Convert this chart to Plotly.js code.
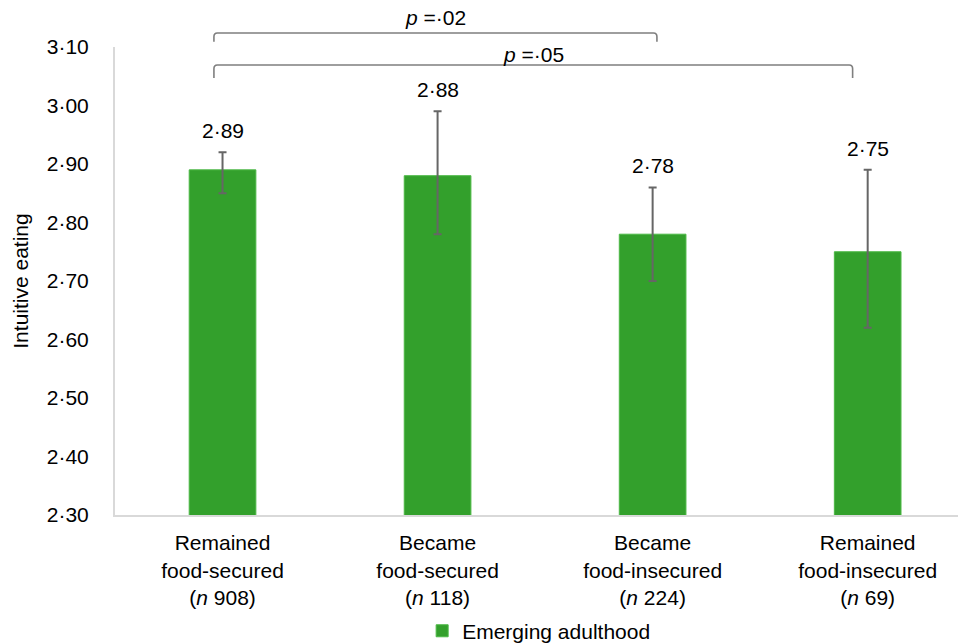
<!DOCTYPE html>
<html>
<head>
<meta charset="utf-8">
<script src="https://cdn.plot.ly/plotly-3.0.1.min.js"></script>
<style>html,body{margin:0;padding:0;background:#fff;}#chart{width:958px;height:644px;}</style>
</head>
<body>
<div id="chart"></div>
<script>
// ---- data ----
const categories = [
  'Remained<br>food-secured<br>(<i>n</i> 908)',
  'Became<br>food-secured<br>(<i>n</i> 118)',
  'Became<br>food-insecured<br>(<i>n</i> 224)',
  'Remained<br>food-insecured<br>(<i>n</i> 69)'
];
const means = [2.89, 2.88, 2.78, 2.75];
const errPlus = [0.03, 0.11, 0.08, 0.14];
const errMinus = [0.04, 0.10, 0.08, 0.13];
const valueLabels = ['2·89', '2·88', '2·78', '2·75'];
const yTickVals = [2.30, 2.40, 2.50, 2.60, 2.70, 2.80, 2.90, 3.00, 3.10];
const yTickText = ['2·30', '2·40', '2·50', '2·60', '2·70', '2·80', '2·90', '3·00', '3·10'];
const compFrom = [0, 0];
const compTo = [2, 3];
const compLabels = ['<i>p</i> =·02', '<i>p</i> =·05'];
const seriesName = 'Emerging adulthood';

// ---- layout helpers ----
const FONT = 'Liberation Sans, Arial, sans-serif';
const xIdx = categories.map((c, i) => i);
const xRange = [-0.5, 3.42];
const toPaperX = v => (v - xRange[0]) / (xRange[1] - xRange[0]);
const bracketTop = [1.030, 0.9615];
const bracketEnd = [1.011, 0.934];
const bracketLabelY = [1.064, 0.985];

const shapes = [];
const annotations = [];
compFrom.forEach((f, k) => {
  const x0 = toPaperX(f - 0.04), x1 = toPaperX(compTo[k] + (k === 0 ? 0.02 : -0.07));
  const yt = bracketTop[k], ye = bracketEnd[k];
  const rx = 0.004, ry = 0.008;
  shapes.push({
    type: 'path', xref: 'paper', yref: 'paper',
    path: `M ${x0},${ye} L ${x0},${yt - ry} Q ${x0},${yt} ${x0 + rx},${yt} L ${x1 - rx},${yt} Q ${x1},${yt} ${x1},${yt - ry} L ${x1},${ye}`,
    line: {color: '#7f7f7f', width: 1.6}
  });
  annotations.push({
    xref: 'paper', yref: 'paper', x: (x0 + x1) / 2, y: bracketLabelY[k],
    text: compLabels[k], showarrow: false, xanchor: 'center', yanchor: 'middle',
    font: {family: FONT, size: 21, color: '#000'}
  });
});
means.forEach((m, i) => {
  annotations.push({
    xref: 'x', yref: 'y', x: i, y: m + errPlus[i], yshift: 8,
    text: valueLabels[i], showarrow: false, xanchor: 'center', yanchor: 'bottom',
    font: {family: FONT, size: 21, color: '#000'}
  });
});

const trace = {
  type: 'bar', x: xIdx, y: means, name: seriesName, width: 0.31,
  marker: {color: '#33a02c', line: {color: '#4cb845', width: 1}},
  error_y: {type: 'data', symmetric: false, array: errPlus, arrayminus: errMinus,
            color: '#666666', thickness: 2, width: 4},
  showlegend: true
};

const layout = {
  width: 958, height: 644,
  margin: {l: 115, r: 0, t: 47, b: 129, autoexpand: false},
  paper_bgcolor: '#fff', plot_bgcolor: '#fff',
  font: {family: FONT, size: 21, color: '#000'},
  xaxis: {
    range: xRange, tickmode: 'array', tickvals: xIdx, ticktext: categories,
    showgrid: false, zeroline: false, showline: true, linecolor: '#d9d9d9', linewidth: 2,
    ticks: '', ticklabelstandoff: 8, tickfont: {size: 21, color: '#000'}, fixedrange: true,
    automargin: false
  },
  yaxis: {
    range: [2.30, 3.10], tickmode: 'array', tickvals: yTickVals, ticktext: yTickText,
    showgrid: false, zeroline: false, showline: true, linecolor: '#d9d9d9', linewidth: 2,
    ticks: '', ticklabelstandoff: 20, tickfont: {size: 21, color: '#000'}, automargin: false,
    title: {text: 'Intuitive eating', font: {size: 21, color: '#000'}, standoff: 12}
  },
  legend: {orientation: 'h', x: toPaperX(1.47), xanchor: 'center', yref: 'container', y: 0.02, yanchor: 'middle',
           font: {size: 21, color: '#000'}, itemwidth: 30},
  shapes: shapes,
  annotations: annotations,
  bargap: 0.69
};

Plotly.newPlot('chart', [trace], layout, {displayModeBar: false, staticPlot: true});
</script>
</body>
</html>
